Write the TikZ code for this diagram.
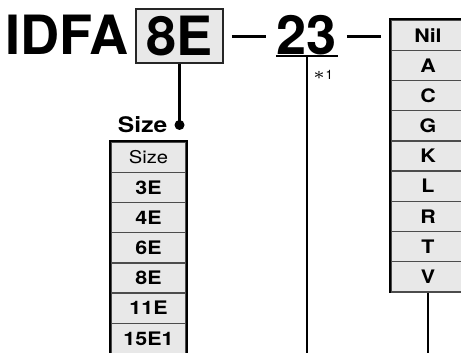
\documentclass[tikz,border=0pt]{standalone}
\usepackage{fontspec}
\setmainfont{TeX Gyre Heros}
\newfontfamily\widefont[FakeStretch=1.15]{TeX Gyre Heros}
\usepackage{tikz}
\usepackage{xcolor}
\definecolor{cellgray}{HTML}{E8E8E8}

\begin{document}
\begin{tikzpicture}[scale=0.1]
\tikzstyle{every node}+=[inner sep=0pt]
\tikzstyle{big}=[font=\fontsize{15.4}{16}\selectfont\bfseries]
\tikzstyle{cell}=[draw=black!70, fill=cellgray, line width=0.4pt, minimum height=3.02mm, font=\widefont\fontsize{5.3}{6}\selectfont\bfseries]
\tikzstyle{wire}=[black, line width=0.6pt]
\useasboundingbox (0,0) rectangle (46.1,-35.2);
\clip (0,0) rectangle (46.1,-35.2);
\coordinate (bottom) at (0,-36);
% model code
\node [big, anchor=base west] (model) at (0.48,-5.43) {IDFA};
\node [big, draw=black!85, fill=cellgray, line width=0.55pt, minimum width=8.7mm, minimum height=5.4mm] (size) at (17.95,-3.6) {8E};
\node [big, anchor=base] (serial) at (30.7,-5.43) {23};
\draw [wire, line width=0.5pt] ([yshift=-0.77mm]serial.south west) -- ([yshift=-0.77mm]serial.south east);
\node [font=\fontsize{3.7}{4}\selectfont, anchor=base west] (note) at (31.2,-7.9) {$\ast$1};
% options column
\foreach \t [count=\i] in {Nil,A,C,G,K,L,R,T,V}
  \node [cell, minimum width=7.4mm] (opt\i) at (42.8,{-3.51-(\i-1)*3.02}) {\t};
\draw [black, line width=0.55pt] (opt9.south west) -- (opt1.north west) -- (opt1.north east);
% size column
\node [cell, minimum width=7.5mm, font=\widefont\fontsize{5}{5}\selectfont] (sz0) at (14.85,-15.71) {Size};
\foreach \t [count=\i] in {3E,4E,6E,8E,11E,15E1}
  \node [cell, minimum width=7.5mm] (sz\i) at (14.85,{-15.71-\i*3.02}) {\t};
\draw [black, line width=0.55pt] (sz6.south west) -- (sz0.north west) -- (sz0.north east) -- (sz6.south east);
\node [font=\widefont\fontsize{6.1}{6}\selectfont\bfseries, anchor=base east] (sizelabel) at (16.8,-13.2) {Size};
% connectors
\draw [wire, line width=0.85pt, shorten <=0.8mm, shorten >=1.0mm] (size.east) -- (serial.west |- size.east);
\draw [wire, line width=0.85pt, shorten <=0.9mm, shorten >=0.9mm] (serial.east |- size.east) -- (opt1.west |- size.east);
\draw [wire] (size.south) -- ++(0,-6.1) coordinate (dot);
\fill [black] (dot) circle (0.5);
\draw [wire] ([yshift=-0.77mm]serial.south) -- (serial |- bottom);
\draw [wire] (opt9.south) -- (opt9 |- bottom);
\end{tikzpicture}
\end{document}
